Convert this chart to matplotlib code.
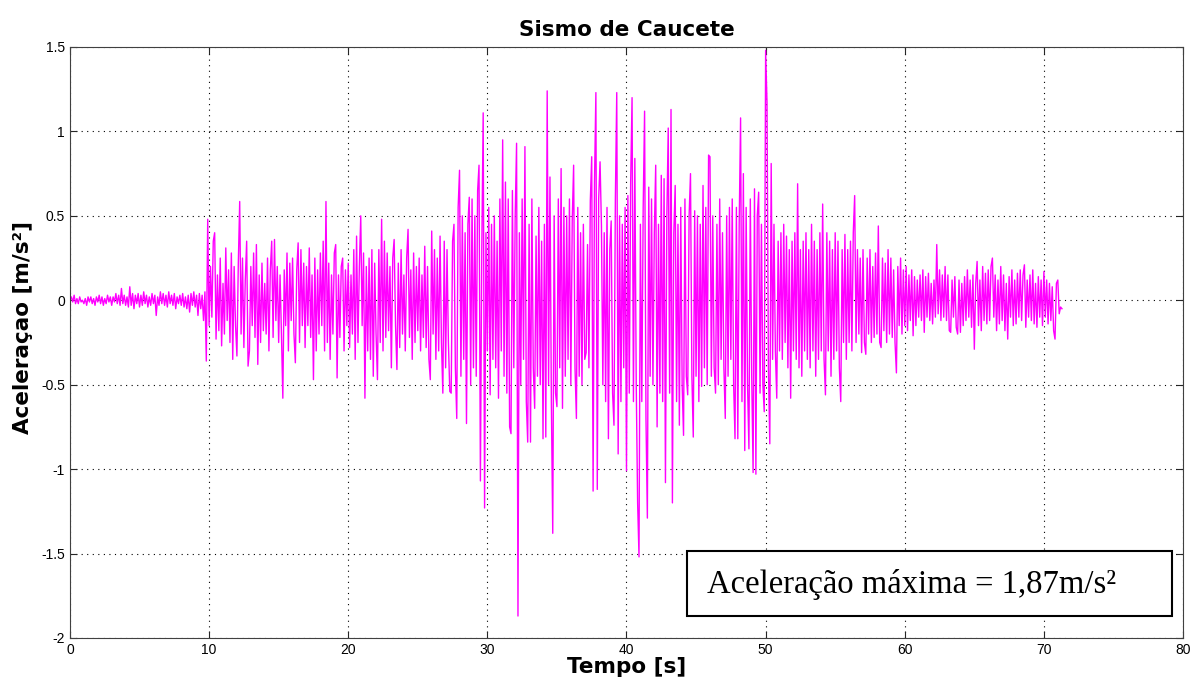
import numpy as np
import matplotlib
matplotlib.use("Agg")
import matplotlib.pyplot as plt
from matplotlib.patches import Rectangle

# Sampling step of the digitised record [s]
dt = 0.1

# Acceleration [m/s^2], one row per second
accel = [
    0.00, 0.02, -0.01, 0.03, -0.02, 0.01, -0.02, 0.02, -0.01, 0.00,
    -0.02, 0.01, -0.03, 0.02, -0.01, 0.02, -0.02, 0.01, -0.03, 0.02,
    -0.01, 0.03, -0.02, 0.02, -0.03, 0.01, -0.02, 0.03, -0.01, 0.02,
    -0.03, 0.02, -0.01, 0.04, -0.02, 0.03, -0.03, 0.07, -0.02, 0.03,
    -0.03, 0.02, -0.04, 0.08, -0.03, 0.04, -0.05, 0.03, -0.02, 0.04,
    -0.04, 0.03, -0.03, 0.05, -0.02, 0.03, -0.04, 0.02, -0.03, 0.04,
    -0.02, 0.03, -0.09, 0.02, -0.03, 0.05, -0.02, 0.04, -0.03, 0.03,
    -0.04, 0.05, -0.02, 0.03, -0.03, 0.04, -0.05, 0.02, -0.02, 0.03,
    -0.03, 0.04, -0.04, 0.02, -0.05, 0.03, -0.07, 0.04, -0.03, 0.05,
    -0.04, 0.03, -0.09, 0.04, -0.05, 0.03, -0.12, 0.05, -0.36, 0.48,
    -0.15, 0.20, -0.10, 0.35, 0.40, -0.23, 0.15, -0.18, 0.25, -0.27,
    0.10, -0.20, 0.31, -0.12, 0.18, -0.25, 0.28, -0.35, 0.20, -0.15,
    -0.33, 0.22, 0.585, -0.20, 0.25, -0.28, 0.12, 0.35, -0.39, -0.30,
    0.20, -0.15, 0.28, -0.22, 0.33, -0.38, 0.15, -0.25, 0.22, -0.18,
    0.10, -0.20, 0.25, -0.30, 0.18, 0.35, -0.22, 0.36, -0.12, 0.20,
    -0.25, 0.15, -0.20, -0.58, 0.18, -0.15, 0.28, -0.30, 0.22, -0.12,
    0.25, -0.20, -0.37, 0.18, 0.34, -0.25, 0.30, -0.15, 0.22, -0.28,
    0.20, -0.15, 0.31, -0.22, 0.15, -0.47, 0.25, -0.30, 0.18, -0.20,
    0.28, -0.15, 0.35, -0.30, 0.585, -0.25, 0.22, -0.35, 0.15, -0.20,
    0.28, 0.33, -0.46, 0.15, -0.22, 0.20, 0.25, -0.30, 0.18, -0.15,
    0.22, -0.28, 0.15, -0.20, 0.30, -0.35, 0.38, -0.25, 0.20, 0.50,
    -0.15, 0.28, -0.58, 0.20, -0.30, 0.25, -0.35, 0.30, -0.45, 0.22,
    -0.20, -0.47, 0.30, -0.25, 0.48, -0.30, 0.35, -0.22, 0.28, -0.18,
    0.20, -0.40, 0.25, 0.36, -0.15, -0.41, 0.22, -0.28, 0.30, -0.20,
    0.15, -0.30, 0.25, 0.42, -0.22, 0.18, -0.35, 0.28, -0.25, 0.20,
    -0.18, 0.25, -0.30, 0.15, -0.22, 0.32, -0.28, 0.20, -0.35, -0.47,
    0.41, -0.20, 0.30, -0.35, 0.25, -0.30, 0.38, -0.25, -0.55, 0.35,
    -0.40, 0.30, -0.25, -0.54, -0.55, 0.35, 0.45, -0.40, -0.70, 0.55,
    0.77, -0.45, 0.50, -0.35, 0.40, -0.73, 0.45, 0.61, -0.50, 0.60,
    -0.40, 0.50, -0.45, 0.65, 0.80, -1.07, 0.30, 1.11, -1.23, 0.40,
    -0.30, 0.55, -0.56, 0.45, -0.35, 0.50, -0.40, 0.35, -0.58, 0.60,
    -0.30, 0.95, -0.45, 0.70, -0.55, 0.60, -0.75, -0.79, 0.65, -0.40,
    0.50, 0.93, -1.87, 0.40, -0.50, 0.60, -0.35, 0.91, -0.60, -0.84,
    0.45, -0.84, 0.60, -0.40, -0.64, 0.38, -0.45, 0.55, -0.50, 0.35,
    -0.82, 0.45, -0.81, 1.24, -0.50, 0.73, -0.60, -1.38, 0.50, -0.55,
    -0.63, 0.60, -0.40, 0.78, -0.64, 0.55, -0.45, 0.50, -0.35, 0.60,
    -0.50, 0.47, 0.80, -0.40, -0.70, 0.55, -0.45, 0.40, -0.50, 0.45,
    -0.35, -0.31, 0.33, -0.40, 0.59, 0.85, -1.13, 0.70, 1.23, -1.12,
    0.60, 0.82, 0.44, -0.50, 0.40, -0.60, 0.55, -0.82, 0.30, 0.47,
    -0.55, -0.74, 0.60, 1.23, -0.91, 0.50, -0.60, 0.45, -0.40, 0.55,
    -1.01, 0.62, -0.55, 0.70, 1.20, -0.60, 0.84, -0.50, -1.20, -1.52,
    0.45, -0.60, 0.55, 1.12, -0.70, -1.29, 0.67, -0.45, 0.60, -0.50,
    0.40, 0.80, -0.75, 0.45, -0.55, 0.74, -0.60, 0.72, -1.08, 0.50,
    1.02, -0.55, 1.13, -1.20, 0.40, 0.68, -0.60, 0.45, -0.74, 0.55,
    -0.50, -0.80, 0.60, -0.45, -0.56, 0.50, 0.75, -0.45, -0.81, 0.53,
    -0.45, 0.50, -0.60, 0.45, -0.51, 0.68, -0.40, 0.55, -0.50, 0.86,
    0.85, -0.45, 0.50, -0.40, -0.55, 0.45, -0.50, 0.60, -0.35, 0.40,
    -0.40, -0.70, 0.50, -0.45, 0.55, -0.35, 0.60, -0.50, -0.82, 0.55,
    -0.82, 0.45, 1.08, -0.60, 0.75, -0.89, 0.55, -0.50, -0.88, 0.60,
    -0.45, -1.02, 0.66, -1.03, 0.50, 0.64, -0.55, 0.45, -0.50, -0.66,
    1.48, 1.17, -0.40, -0.85, 0.81, -0.35, 0.45, -0.30, -0.58, 0.35,
    -0.30, 0.40, -0.35, 0.45, -0.25, 0.38, -0.40, 0.30, -0.58, 0.35,
    -0.30, 0.40, -0.35, 0.69, -0.40, 0.30, -0.45, 0.35, -0.30, 0.40,
    -0.35, 0.30, -0.40, 0.45, -0.30, 0.35, -0.45, 0.30, -0.35, 0.40,
    -0.30, 0.57, -0.35, -0.56, 0.40, -0.30, 0.35, -0.45, 0.30, -0.35,
    0.40, -0.30, 0.35, -0.40, -0.60, 0.30, -0.25, 0.39, -0.35, 0.30,
    -0.25, 0.35, -0.30, 0.40, 0.62, -0.25, 0.30, -0.20, 0.25, -0.31,
    0.30, -0.25, -0.32, 0.25, -0.20, 0.30, -0.25, 0.20, -0.22, 0.28,
    -0.20, 0.44, -0.25, -0.28, 0.25, -0.18, 0.22, -0.25, 0.30, -0.20,
    0.25, -0.22, 0.18, -0.25, -0.43, 0.20, -0.15, 0.25, -0.20, 0.18,
    -0.15, 0.20, -0.18, 0.15, -0.12, 0.18, -0.21, 0.14, -0.15, 0.12,
    -0.10, 0.15, -0.12, 0.18, -0.19, 0.14, -0.10, 0.16, -0.12, 0.10,
    -0.14, 0.12, -0.10, 0.33, -0.08, 0.18, -0.12, 0.15, -0.10, 0.20,
    -0.12, 0.15, -0.18, -0.19, 0.12, -0.10, 0.14, -0.16, -0.20, 0.12,
    -0.19, 0.10, -0.15, 0.14, -0.12, 0.18, -0.10, 0.12, -0.16, 0.15,
    -0.29, 0.10, 0.23, -0.15, 0.12, -0.18, 0.20, -0.12, 0.16, -0.14,
    0.18, -0.12, 0.20, 0.25, -0.10, 0.15, -0.18, 0.12, -0.14, 0.20,
    -0.12, 0.15, -0.18, 0.10, -0.23, 0.14, -0.10, 0.18, -0.15, 0.12,
    -0.14, 0.16, -0.10, 0.18, -0.12, 0.15, 0.21, -0.16, 0.12, -0.10,
    0.15, -0.12, 0.18, -0.14, 0.10, -0.16, 0.14, -0.10, 0.12, -0.15,
    0.17, -0.10, 0.12, -0.14, 0.10, -0.12, 0.08, -0.18, -0.23, 0.10,
    0.12, -0.08, -0.04, -0.05,
]
time = np.arange(len(accel)) * dt

x_ticks = [0, 10, 20, 30, 40, 50, 60, 70, 80]
y_ticks = [-2, -1.5, -1, -0.5, 0, 0.5, 1, 1.5]
y_tick_labels = ['-2', '-1.5', '-1', '-0.5', '0', '0.5', '1', '1.5']
note = "Aceleração máxima = 1,87m/s²"

plt.rcParams['font.family'] = ['Liberation Sans', 'DejaVu Sans']

fig = plt.figure(figsize=(11.98, 6.86), dpi=100)
ax = fig.add_axes([0.0584, 0.070, 0.9291, 0.8615])

ax.plot(time, accel, color='#ff00ff', linewidth=1.0)

ax.set_xlim(0, 80)
ax.set_ylim(-2, 1.5)
ax.set_xticks(x_ticks)
ax.set_yticks(y_ticks)
ax.set_xticklabels([str(v) for v in x_ticks])
ax.set_yticklabels(y_tick_labels)
ax.tick_params(direction='in', length=5, top=True, right=True,
               labelsize=10, colors='#262626', labelcolor='black')
ax.grid(True, linestyle=(0, (1, 4)), color='black', linewidth=0.8)
for s in ax.spines.values():
    s.set_color('#404040')

lab_font = dict(family='DejaVu Sans', fontsize=15.5, fontweight='bold')
ax.set_title('Sismo de Caucete', pad=8, **lab_font)
ax.set_xlabel('Tempo [s]', labelpad=0, **lab_font)
ax.set_ylabel('Aceleraçao [m/s²]', **lab_font)
ax.yaxis.set_label_coords(-0.033, 0.526)

# annotation box in the lower right corner
ax.add_patch(Rectangle((0.5545, 0.0365), 0.4355, 0.111, transform=ax.transAxes,
                       facecolor='white', edgecolor='black', linewidth=1.5, zorder=5))
ax.text(0.5725, 0.090, note, transform=ax.transAxes, fontsize=23.5,
        family='Liberation Serif', va='center', ha='left', zorder=6)

fig.savefig('out.png', dpi=100)
